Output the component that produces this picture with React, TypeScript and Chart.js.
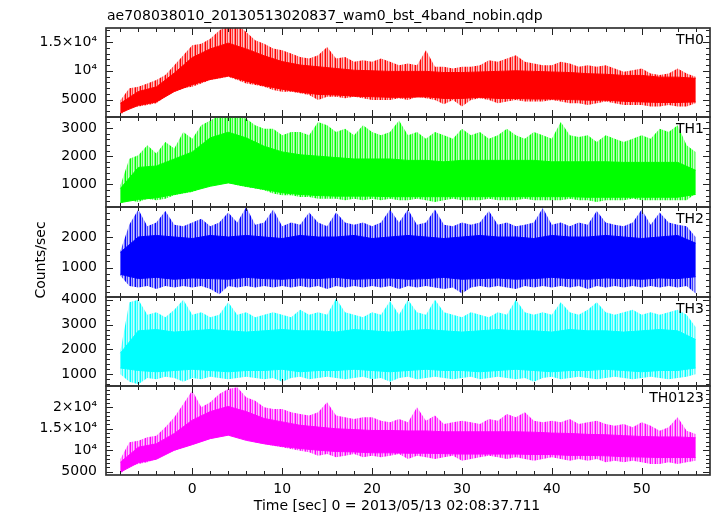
import React, { useEffect, useRef } from "react";
import { Chart, registerables } from "chart.js";
Chart.register(...registerables);

const W = 717;
const H = 516;
const LEFT = 106;
const RIGHT = 710;
const FONT = "DejaVu Sans";

const TITLE = "ae708038010_20130513020837_wam0_bst_4band_nobin.qdp";
const X_TITLE = "Time [sec] 0 = 2013/05/13 02:08:37.711";
const Y_TITLE = "Counts/sec";

const X_MIN = -9.6;
const X_MAX = 57.6;
const X_MAJOR = [0, 10, 20, 30, 40, 50];
const X_LABELS = ["0", "10", "20", "30", "40", "50"];

// time grids (sec)
const T_OUTER = [-8, -7, -6, -5, -4, -3, -2, -1, 0, 1, 2, 3, 4, 5, 6, 7, 8, 9, 10, 11, 12, 13, 14, 15, 16, 17, 18, 19, 20, 21, 22, 23, 24, 25, 26, 27, 28, 29, 30, 31, 32, 33, 34, 35, 36, 37, 38, 39, 40, 41, 42, 43, 44, 45, 46, 47, 48, 49, 50, 51, 52, 53, 54, 55, 56];
const T_CORE = [-8, -6, -4, -2, 0, 2, 4, 6, 8, 10, 12, 14, 16, 18, 20, 22, 24, 26, 28, 30, 32, 34, 36, 38, 40, 42, 44, 46, 48, 50, 52, 54, 56];

// TH0 envelopes (outer extremes, dense core)
const TH0_HI = [4900, 6950, 7240, 7810, 8390, 9250, 10980, 12700, 14430, 14710, 15580, 17010, 18000, 18000, 16730, 15290, 14710, 13850, 13560, 12990, 12410, 12130, 12700, 14140, 12130, 12410, 11550, 11840, 11550, 12130, 11550, 10980, 11260, 10980, 13560, 10690, 10690, 10400, 10690, 10690, 10980, 11840, 11550, 12130, 12700, 11550, 11260, 10980, 10980, 11550, 11260, 10690, 10980, 10690, 10980, 10400, 9830, 10110, 10400, 9540, 9250, 9540, 10400, 9540, 8960];
const TH0_LO = [2350, 3500, 3790, 4080, 4360, 5510, 6380, 6950, 7240, 7810, 8390, 8680, 8960, 8390, 7810, 7530, 7240, 6660, 6380, 6380, 6090, 5800, 4940, 5510, 5510, 5230, 5510, 5230, 4940, 4940, 4940, 5230, 4940, 5510, 5230, 4940, 4190, 4940, 3790, 4940, 5230, 4940, 4360, 4650, 4940, 4650, 4650, 4650, 4940, 4650, 4360, 4360, 4080, 4360, 4650, 4360, 4080, 4080, 4080, 3790, 3790, 4080, 3790, 3790, 4360];
const TH0_CORE_HI = [4360, 6400, 7200, 9600, 12300, 13800, 14800, 13800, 12600, 11600, 11000, 10700, 10400, 10100, 10000, 9900, 9900, 9900, 9700, 9700, 9800, 9900, 10000, 9900, 9800, 9700, 9500, 9400, 9200, 9200, 8900, 8900, 8700];
const TH0_CORE_LO = [2700, 4000, 4600, 6400, 7600, 8500, 9100, 8200, 7400, 6800, 6300, 5900, 5800, 5600, 5500, 5400, 5400, 5500, 5200, 5200, 5400, 5200, 5200, 5100, 5100, 5000, 4900, 4900, 4700, 4600, 4500, 4500, 4600];

// TH1 envelopes
const TH1_HI = [965, 1910, 2030, 2385, 2090, 2500, 2270, 2860, 2620, 3095, 3270, 3450, 3450, 3450, 3330, 3095, 2975, 2975, 2740, 2860, 2860, 2740, 3210, 3095, 2860, 2975, 2740, 3095, 2860, 2740, 2860, 3270, 2740, 2860, 2620, 2860, 2740, 2620, 2975, 2740, 2860, 2620, 2740, 2975, 2740, 2620, 2860, 2740, 2620, 3210, 2740, 2680, 2740, 2500, 2740, 2620, 2500, 2620, 2740, 2620, 2975, 2860, 3095, 2385, 2150];
const TH1_LO = [315, 430, 375, 490, 430, 490, 610, 670, 730, 850, 965, 1085, 1085, 965, 905, 850, 790, 670, 610, 610, 550, 550, 490, 490, 490, 430, 490, 430, 490, 430, 490, 430, 430, 490, 430, 375, 430, 490, 430, 430, 430, 490, 430, 430, 430, 490, 430, 430, 430, 430, 490, 430, 430, 375, 430, 430, 430, 490, 430, 430, 430, 430, 430, 430, 670];
const TH1_CORE_HI = [850, 1600, 1650, 1900, 2150, 2650, 2850, 2650, 2350, 2150, 2050, 2000, 1950, 1900, 1900, 1900, 1850, 1850, 1800, 1850, 1850, 1850, 1850, 1850, 1800, 1800, 1800, 1800, 1780, 1780, 1780, 1780, 1500];
const TH1_CORE_LO = [350, 460, 520, 640, 760, 930, 1050, 930, 820, 700, 640, 600, 580, 580, 580, 560, 560, 560, 560, 560, 560, 560, 560, 560, 560, 560, 540, 540, 540, 540, 540, 540, 640];

// TH2 envelopes
const TH2_HI = [1540, 2410, 2900, 2350, 2470, 2850, 2400, 2350, 2470, 2600, 2350, 2470, 2800, 2470, 2980, 2400, 2470, 2900, 2350, 2470, 2400, 2800, 2470, 2350, 2800, 2470, 2400, 2470, 2350, 2470, 2900, 2470, 2900, 2400, 2470, 2900, 2400, 2350, 2470, 2400, 2470, 2850, 2400, 2470, 2350, 2400, 2470, 2950, 2400, 2470, 2350, 2470, 2400, 2850, 2470, 2400, 2350, 2470, 2900, 2400, 2800, 2470, 2400, 2350, 2000];
const TH2_LO = [730, 400, 350, 400, 300, 400, 350, 400, 350, 400, 300, 130, 400, 350, 400, 350, 400, 350, 400, 350, 400, 350, 400, 300, 400, 350, 400, 350, 400, 350, 400, 300, 400, 350, 400, 350, 300, 350, 150, 350, 400, 350, 400, 350, 300, 400, 350, 400, 350, 400, 350, 400, 300, 400, 350, 400, 350, 400, 350, 400, 350, 400, 350, 400, 150];
const TH2_CORE_HI = [1500, 2000, 2050, 2000, 1950, 2050, 2000, 2050, 2000, 1950, 2050, 2000, 2000, 2050, 1950, 2000, 2050, 2000, 1950, 2000, 2050, 2000, 2000, 1950, 2050, 2000, 2000, 2050, 2000, 1950, 2000, 2050, 1800];
const TH2_CORE_LO = [780, 640, 680, 620, 660, 640, 620, 680, 640, 620, 660, 640, 680, 620, 640, 660, 620, 640, 680, 620, 640, 660, 620, 640, 680, 640, 620, 660, 640, 620, 660, 640, 700];

// TH3 envelopes
const TH3_HI = [1940, 3900, 4000, 3400, 3500, 3300, 3600, 4000, 3400, 3500, 3300, 3400, 3900, 3400, 3500, 3300, 3400, 3500, 3400, 3300, 3600, 3400, 3500, 3400, 4050, 3500, 3400, 3300, 3500, 3400, 3950, 3400, 4000, 3500, 3400, 4000, 3500, 3400, 3300, 3500, 3400, 3300, 3500, 3400, 4000, 3500, 3400, 3500, 3400, 3900, 3500, 3400, 3600, 3900, 3500, 3400, 3500, 3600, 3400, 3500, 3400, 3500, 3600, 3400, 2900];
const TH3_LO = [1000, 700, 600, 850, 800, 900, 850, 700, 850, 800, 900, 850, 800, 850, 900, 850, 800, 850, 700, 850, 900, 800, 850, 900, 850, 800, 850, 900, 800, 850, 700, 850, 900, 800, 850, 900, 850, 800, 850, 900, 800, 850, 900, 850, 800, 850, 700, 850, 900, 800, 850, 900, 850, 800, 850, 900, 850, 800, 850, 900, 850, 800, 850, 900, 1000];
const TH3_CORE_HI = [1850, 2750, 2800, 2700, 2750, 2800, 2750, 2700, 2750, 2800, 2750, 2750, 2700, 2800, 2750, 2700, 2750, 2800, 2750, 2700, 2750, 2800, 2750, 2750, 2700, 2800, 2750, 2750, 2700, 2750, 2800, 2750, 2400];
const TH3_CORE_LO = [1250, 1150, 1100, 1150, 1200, 1150, 1100, 1150, 1150, 1200, 1100, 1150, 1150, 1200, 1150, 1100, 1150, 1200, 1150, 1150, 1100, 1150, 1200, 1150, 1100, 1150, 1150, 1200, 1150, 1100, 1150, 1150, 1250];

// TH0123 envelopes
const THS_HI = [7960, 11840, 12230, 13010, 13400, 15340, 17670, 20780, 23890, 20000, 21170, 23110, 24270, 24660, 22330, 21550, 20000, 19610, 19610, 18830, 18450, 18060, 18830, 21170, 18060, 17670, 17280, 17670, 17670, 16890, 16500, 17280, 16500, 20000, 16890, 18060, 16120, 16500, 16890, 16500, 16120, 17280, 16890, 18450, 17670, 18830, 16890, 16500, 16890, 16500, 17280, 16120, 16500, 16890, 16120, 15730, 16120, 15340, 16500, 15730, 14560, 15340, 17670, 14560, 13780];
const THS_LO = [4460, 6400, 6790, 7180, 7960, 9120, 9900, 10680, 11450, 12230, 13400, 13780, 14170, 13400, 12620, 11840, 11450, 11060, 10680, 10290, 9900, 9510, 8730, 9120, 8340, 8730, 9120, 8340, 8730, 8340, 8730, 9120, 7960, 8730, 8340, 7960, 8340, 8730, 7570, 7960, 8340, 8730, 8340, 7960, 8340, 7960, 7570, 7960, 8340, 7960, 7570, 7960, 7570, 7960, 7180, 7570, 7180, 7570, 7180, 6790, 6790, 7180, 6790, 7180, 7570];
const THS_CORE_HI = [7200, 10700, 11500, 13900, 17000, 19000, 20200, 19000, 17400, 16600, 15800, 15400, 15000, 14800, 14600, 14600, 14500, 14500, 14300, 14300, 14300, 14300, 14300, 14200, 14000, 13900, 13700, 13600, 13400, 13200, 13100, 13100, 12900];
const THS_CORE_LO = [4900, 7100, 7900, 10000, 11300, 12700, 13500, 12300, 11500, 10900, 10400, 10000, 9700, 9600, 9400, 9400, 9300, 9300, 9200, 9100, 9100, 9100, 9100, 9000, 9000, 8800, 8800, 8700, 8500, 8400, 8300, 8300, 8300];

// y tick values / labels
const TH0_TICKS = [5000, 10000, 15000];
const TH0_LABELS = ["5000", "10\u2074", "1.5\u00d710\u2074"];
const TH1_TICKS = [1000, 2000, 3000];
const TH1_LABELS = ["1000", "2000", "3000"];
const TH2_TICKS = [1000, 2000];
const TH2_LABELS = ["1000", "2000"];
const TH3_TICKS = [1000, 2000, 3000, 4000];
const TH3_LABELS = ["1000", "2000", "3000", "4000"];
const THS_TICKS = [5000, 10000, 15000, 20000];
const THS_LABELS = ["5000", "10\u2074", "1.5\u00d710\u2074", "2\u00d710\u2074"];

type Panel = {
  name: string;
  rgb: [number, number, number];
  top: number;
  bottom: number;
  yMin: number;
  yMax: number;
  ticks: number[];
  labels: string[];
  minorStep: number;
  hi: number[];
  lo: number[];
  coreHi: number[];
  coreLo: number[];
};

const PANELS: Panel[] = [
  { name: "TH0", rgb: [255, 0, 0], top: 28, bottom: 117, yMin: 1980, yMax: 17430, ticks: TH0_TICKS, labels: TH0_LABELS, minorStep: 1000, hi: TH0_HI, lo: TH0_LO, coreHi: TH0_CORE_HI, coreLo: TH0_CORE_LO },
  { name: "TH1", rgb: [0, 255, 0], top: 117, bottom: 207, yMin: 194, yMax: 3391, ticks: TH1_TICKS, labels: TH1_LABELS, minorStep: 200, hi: TH1_HI, lo: TH1_LO, coreHi: TH1_CORE_HI, coreLo: TH1_CORE_LO },
  { name: "TH2", rgb: [0, 0, 255], top: 207, bottom: 297, yMin: 39, yMax: 2980, ticks: TH2_TICKS, labels: TH2_LABELS, minorStep: 200, hi: TH2_HI, lo: TH2_LO, coreHi: TH2_CORE_HI, coreLo: TH2_CORE_LO },
  { name: "TH3", rgb: [0, 255, 255], top: 297, bottom: 386, yMin: 526, yMax: 4112, ticks: TH3_TICKS, labels: TH3_LABELS, minorStep: 200, hi: TH3_HI, lo: TH3_LO, coreHi: TH3_CORE_HI, coreLo: TH3_CORE_LO },
  { name: "TH0123", rgb: [255, 0, 255], top: 386, bottom: 475, yMin: 4230, yMax: 24960, ticks: THS_TICKS, labels: THS_LABELS, minorStep: 1000, hi: THS_HI, lo: THS_LO, coreHi: THS_CORE_HI, coreLo: THS_CORE_LO },
];

const zip = (xs: number[], ys: number[]) => xs.map((x, i) => ({ x, y: ys[i] }));

// vertical-streak fill for the sparse spiky outer part of each light curve
function streakPattern(rgb: [number, number, number]): CanvasPattern | string {
  const c = document.createElement("canvas");
  c.width = 5;
  c.height = 1;
  const g = c.getContext("2d");
  if (!g) return `rgba(${rgb.join(",")},0.5)`;
  const alphas = [1, 0.35, 0.75, 0.2, 0.55];
  alphas.forEach((al, i) => {
    g.fillStyle = `rgba(${rgb.join(",")},${al})`;
    g.fillRect(i, 0, 1, 1);
  });
  return g.createPattern(c, "repeat") || `rgba(${rgb.join(",")},0.5)`;
}

function framePlugin(p: Panel, drawTexts: boolean) {
  return {
    id: "frame_" + p.name,
    afterDraw(chart: any) {
      const ctx = chart.ctx as CanvasRenderingContext2D;
      const a = chart.chartArea;
      const xs = chart.scales.x;
      const ys = chart.scales.y;
      ctx.save();
      ctx.strokeStyle = "#222";
      ctx.lineWidth = 1;
      ctx.beginPath();
      for (let v = -8; v <= 56; v += 2) {
        const major = X_MAJOR.includes(v);
        const len = major ? 7 : 4;
        const px = Math.round(xs.getPixelForValue(v)) + 0.5;
        ctx.moveTo(px, a.top);
        ctx.lineTo(px, a.top + len);
        ctx.moveTo(px, a.bottom);
        ctx.lineTo(px, a.bottom - len);
      }
      const start = Math.ceil(p.yMin / p.minorStep) * p.minorStep;
      for (let v = start; v <= p.yMax; v += p.minorStep) {
        const major = p.ticks.includes(v);
        const len = major ? 7 : 4;
        const py = Math.round(ys.getPixelForValue(v)) + 0.5;
        ctx.moveTo(a.left, py);
        ctx.lineTo(a.left + len, py);
        ctx.moveTo(a.right, py);
        ctx.lineTo(a.right - len, py);
      }
      ctx.stroke();
      ctx.lineWidth = 1.7;
      ctx.strokeStyle = "#333";
      ctx.strokeRect(a.left, a.top, a.right - a.left, a.bottom - a.top);

      ctx.fillStyle = "#000";
      ctx.font = `14px "${FONT}"`;
      ctx.textAlign = "right";
      ctx.textBaseline = "alphabetic";
      ctx.fillText(p.name, a.right - 6, a.top + 16);

      if (drawTexts) {
        ctx.textAlign = "left";
        ctx.fillText(TITLE, 107, 19.5);
        ctx.textAlign = "center";
        ctx.textBaseline = "middle";
        ctx.fillText(X_TITLE, 397, 506);
        ctx.save();
        ctx.translate(41, 260);
        ctx.rotate(-Math.PI / 2);
        ctx.fillText(Y_TITLE, 0, 0);
        ctx.restore();
      }
      ctx.restore();
    },
  };
}

function makeChart(canvas: HTMLCanvasElement, p: Panel, isBottom: boolean) {
  const solid = `rgb(${p.rgb.join(",")})`;
  const streak = streakPattern(p.rgb);
  const line = (data: any, color: any, width: number, fill: any, bg?: any) => ({
    data,
    borderColor: color,
    backgroundColor: bg || color,
    borderWidth: width,
    pointRadius: 0,
    tension: 0,
    fill,
  });
  return new Chart(canvas, {
    type: "line",
    data: {
      datasets: [
        line(zip(T_CORE, p.coreHi), solid, 1, "+1", solid),
        line(zip(T_CORE, p.coreLo), solid, 1, false),
        line(zip(T_OUTER, p.hi), "rgba(0,0,0,0)", 0, "+1", streak),
        line(zip(T_OUTER, p.lo), "rgba(0,0,0,0)", 0, false),
      ],
    },
    options: {
      responsive: false,
      animation: false,
      devicePixelRatio: 1,
      events: [],
      layout: {
        padding: { left: 0, right: W - RIGHT, top: p.top, bottom: isBottom ? 0 : H - p.bottom },
      },
      plugins: {
        legend: { display: false },
        tooltip: { enabled: false },
        title: { display: false },
      },
      scales: {
        x: {
          type: "linear",
          min: X_MIN,
          max: X_MAX,
          display: isBottom,
          afterFit: (s: any) => {
            s.height = isBottom ? H - p.bottom : 0;
          },
          afterBuildTicks: (s: any) => {
            s.ticks = X_MAJOR.map((v) => ({ value: v }));
          },
          grid: { display: false, drawTicks: false },
          border: { display: false },
          ticks: {
            font: { family: FONT, size: 14 },
            color: "#000",
            padding: 6,
            maxRotation: 0,
            autoSkip: false,
            callback: (_v: any, i: number) => X_LABELS[i],
          },
        },
        y: {
          type: "linear",
          min: p.yMin,
          max: p.yMax,
          afterFit: (s: any) => {
            s.width = LEFT;
          },
          afterBuildTicks: (s: any) => {
            s.ticks = p.ticks.map((v) => ({ value: v }));
          },
          grid: { display: false, drawTicks: false },
          border: { display: false },
          ticks: {
            font: { family: FONT, size: 14 },
            color: "#000",
            padding: 9,
            autoSkip: false,
            callback: (_v: any, i: number) => p.labels[i],
          },
        },
      },
    } as any,
    plugins: [framePlugin(p, isBottom)],
  });
}

export default function App() {
  const refs = useRef<(HTMLCanvasElement | null)[]>([]);
  useEffect(() => {
    const charts = PANELS.map((p, i) => makeChart(refs.current[i]!, p, i === PANELS.length - 1));
    return () => charts.forEach((c) => c.destroy());
  }, []);
  return (
    <div style={{ position: "absolute", left: 0, top: 0, width: W, height: H, background: "#fff" }}>
      {PANELS.map((p, i) => (
        <canvas
          key={p.name}
          ref={(el) => {
            refs.current[i] = el;
          }}
          width={W}
          height={H}
          style={{ position: "absolute", left: 0, top: 0, width: W, height: H }}
        />
      ))}
    </div>
  );
}
